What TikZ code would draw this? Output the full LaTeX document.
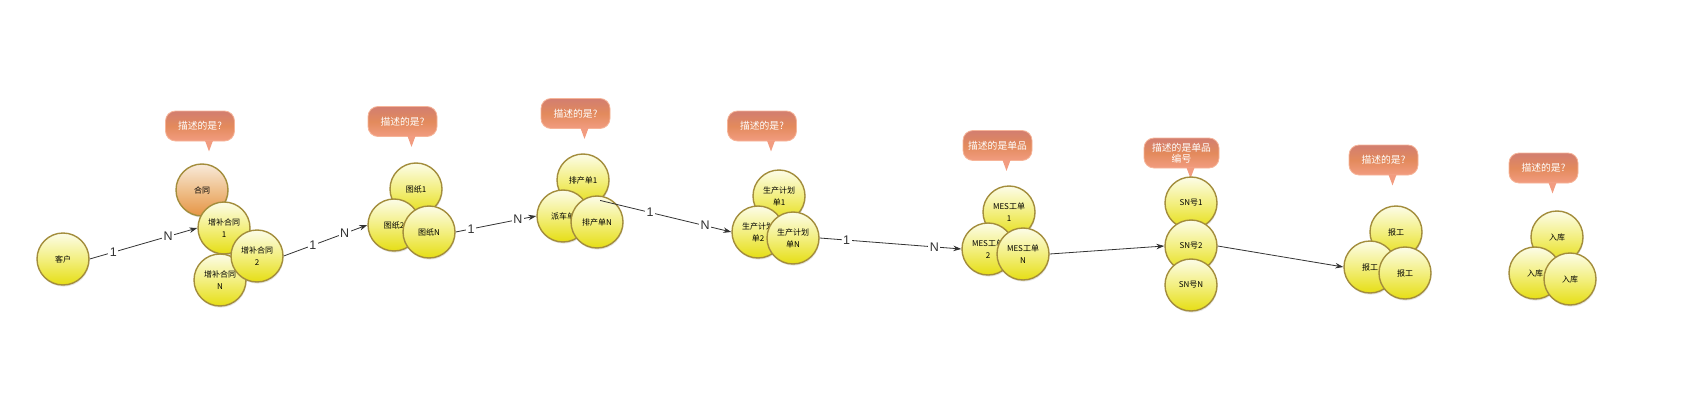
\documentclass[tikz,border=0pt]{standalone}
\usepackage{fontspec}
\setmainfont{Noto Sans CJK SC}
\newfontfamily\latinsans{Liberation Sans}
\usetikzlibrary{arrows.meta,shadows}
\definecolor{ytop}{HTML}{FCFCE8}
\definecolor{ymid}{HTML}{F3EF80}
\definecolor{ybot}{HTML}{E6DE14}
\definecolor{otop}{HTML}{F8EADA}
\definecolor{omid}{HTML}{EFC08C}
\definecolor{obot}{HTML}{E69444}
\definecolor{ring}{HTML}{A38D3C}
\definecolor{ctop}{HTML}{D27E70}
\definecolor{cmid}{HTML}{E38A5C}
\definecolor{cbot}{HTML}{F29C80}
\definecolor{cedge}{HTML}{F6B498}
\definecolor{linec}{HTML}{333333}
\tikzset{
  ent/.style={circle, draw=ring, line width=1.4pt, minimum size=52pt, inner sep=0pt,
    top color=ytop, bottom color=ybot, middle color=ymid, align=center,
    font=\fontsize{8}{12}\selectfont, text=black,
    drop shadow={opacity=0.22, shadow xshift=0.6pt, shadow yshift=-1.6pt}},
  entor/.style={ent, top color=otop, bottom color=obot, middle color=omid},
  bubble/.style={rectangle, rounded corners=10pt, draw=cedge, line width=0.8pt,
    minimum width=69pt, minimum height=30pt, inner sep=1pt,
    top color=ctop, bottom color=cbot, middle color=cmid,
    text=white, font=\fontsize{9.8}{11}\selectfont, align=center},
  tailfill/.style={fill=cbot},
  rel/.style={draw=linec, line width=0.8pt, -{Stealth[length=8pt,width=5.5pt]}},
  card/.style={fill=white, inner sep=1.5pt, font=\latinsans\fontsize{12.5}{12.5}\selectfont, text=linec},
}
\newcommand{\bubtail}[1]{\fill[tailfill] ([xshift=5pt,yshift=0.8pt]#1.south) -- ([xshift=13pt,yshift=0.8pt]#1.south) -- ([xshift=9pt,yshift=-10pt]#1.south) -- cycle;}
\begin{document}
\begin{tikzpicture}[x=1pt,y=-1pt]
\useasboundingbox (0,0) rectangle (1694,412);
% callouts
\node[bubble] (c1) at (200,126) {描述的是?}; \bubtail{c1}
\node[bubble] (c2) at (402.5,121.5) {描述的是?}; \bubtail{c2}
\node[bubble] (c3) at (575.5,113.5) {描述的是?}; \bubtail{c3}
\node[bubble] (c4) at (762,126) {描述的是?}; \bubtail{c4}
\node[bubble] (c5) at (997.5,145.5) {描述的是单品}; \bubtail{c5}
\node[bubble, minimum width=75pt] (c6) at (1181.5,153) {描述的是单品\\编号}; \bubtail{c6}
\node[bubble] (c7) at (1383.5,160) {描述的是?}; \bubtail{c7}
\node[bubble] (c8) at (1543.5,168) {描述的是?}; \bubtail{c8}
% entities
\node[ent] (kh) at (63,259) {客户};
\node[entor] (ht) at (202,190) {合同};
\node[ent] (bh1) at (224,228) {增补合同\\1};
\node[ent] (bhn) at (220,280) {增补合同\\N};
\node[ent] (bh2) at (257,256) {增补合同\\2};
\node[ent] (tz1) at (416,189) {图纸1};
\node[ent] (tz2) at (394,225) {图纸2};
\node[ent] (tzn) at (429,232) {图纸N};
\node[ent] (pc1) at (583,180) {排产单1};
\node[ent] (pcd) at (563,216) {派车单};
\node[ent] (pcn) at (597,222) {排产单N};
\node[ent] (sp1) at (779,196) {生产计划\\单1};
\node[ent] (sp2) at (758,232) {生产计划\\单2};
\node[ent] (spn) at (793,238) {生产计划\\单N};
\node[ent] (me1) at (1009,212) {MES工单\\1};
\node[ent] (me2) at (988,249) {MES工单\\2};
\node[ent] (men) at (1023,254) {MES工单\\N};
\node[ent] (sn1) at (1191,203) {SN号1};
\node[ent] (sn2) at (1191,246) {SN号2};
\node[ent] (snn) at (1191,285) {SN号N};
\node[ent] (bg1) at (1396,232) {报工};
\node[ent] (bg2) at (1370,267) {报工};
\node[ent] (bg3) at (1405,273) {报工};
\node[ent] (rk1) at (1557,237) {入库};
\node[ent] (rk2) at (1535,273) {入库};
\node[ent] (rk3) at (1570,279) {入库};
% relations
\draw[rel] (kh.east) -- node[card,pos=0.22]{1} node[card,pos=0.73]{N} (bh1.west);
\draw[rel] (bh2.east) -- node[card,pos=0.35]{1} node[card,pos=0.73]{N} (tz2.west);
\draw[rel] (tzn.east) -- node[card,pos=0.19]{1} node[card,pos=0.77]{N} (pcd.west);
\draw[rel] (pc1.-50) -- node[card,pos=0.38]{1} node[card,pos=0.80]{N} (sp2.west);
\draw[rel] (spn.east) -- node[card,pos=0.19]{1} node[card,pos=0.81]{N} (me2.west);
\draw[rel] (men.east) -- (sn2.west);
\draw[rel] (sn2.east) -- (bg2.west);
\end{tikzpicture}
\end{document}
